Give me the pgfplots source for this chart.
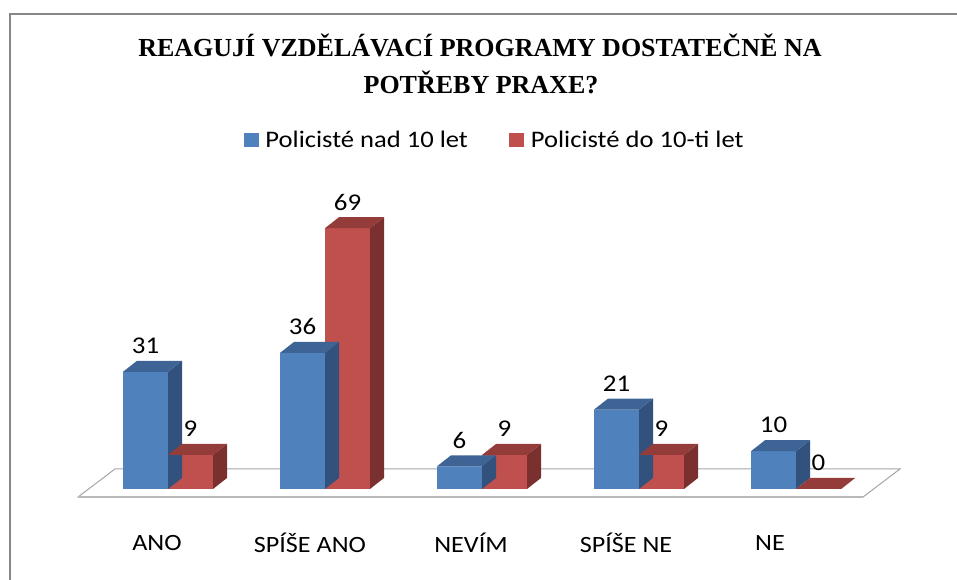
\documentclass[border=0pt]{standalone}
\usepackage{pgfplots}
\pgfplotsset{compat=1.18}
\usepackage{fontspec}
\setmainfont{Carlito}[FakeStretch=1.12]
\newfontfamily\titlefont{Liberation Serif}
\definecolor{bfront}{HTML}{4F81BD}
\definecolor{btop}{HTML}{3D6494}
\definecolor{bside}{HTML}{32527D}
\definecolor{rfront}{HTML}{C0504D}
\definecolor{rtop}{HTML}{943C3A}
\definecolor{rside}{HTML}{7A302F}
\definecolor{framegray}{HTML}{878787}
\newcommand\ticfont{\fontsize{17.5}{20}\selectfont}
\newcommand\legfont{\fontsize{17.8}{20}\selectfont}
\newcommand\numfont{\fontsize{18}{20}\selectfont}
\pgfdeclareplotmark{cubeB}{%
  \pgfmathsetmacro\hh{-\yv*2.835}%
  \pgfmathsetmacro\hb{8.25-\yv*2.835}%
  \pgfsetfillcolor{bside}%
  \pgfpathmoveto{\pgfpoint{0pt}{0pt}}%
  \pgfpathlineto{\pgfpoint{10.5pt}{8.25pt}}%
  \pgfpathlineto{\pgfpoint{10.5pt}{\hb pt}}%
  \pgfpathlineto{\pgfpoint{0pt}{\hh pt}}%
  \pgfpathclose\pgfusepath{fill}%
  \pgfsetfillcolor{btop}%
  \pgfpathmoveto{\pgfpoint{-33.75pt}{0pt}}%
  \pgfpathlineto{\pgfpoint{0pt}{0pt}}%
  \pgfpathlineto{\pgfpoint{10.5pt}{8.25pt}}%
  \pgfpathlineto{\pgfpoint{-23.25pt}{8.25pt}}%
  \pgfpathclose\pgfusepath{fill}%
}
\pgfdeclareplotmark{cubeR}{%
  \pgfmathsetmacro\hh{-\yv*2.835}%
  \pgfmathsetmacro\hb{8.25-\yv*2.835}%
  \pgfsetfillcolor{rside}%
  \pgfpathmoveto{\pgfpoint{33.75pt}{0pt}}%
  \pgfpathlineto{\pgfpoint{44.25pt}{8.25pt}}%
  \pgfpathlineto{\pgfpoint{44.25pt}{\hb pt}}%
  \pgfpathlineto{\pgfpoint{33.75pt}{\hh pt}}%
  \pgfpathclose\pgfusepath{fill}%
  \pgfsetfillcolor{rtop}%
  \pgfpathmoveto{\pgfpoint{0pt}{0pt}}%
  \pgfpathlineto{\pgfpoint{33.75pt}{0pt}}%
  \pgfpathlineto{\pgfpoint{44.25pt}{8.25pt}}%
  \pgfpathlineto{\pgfpoint{10.5pt}{8.25pt}}%
  \pgfpathclose\pgfusepath{fill}%
}
\begin{document}
\begin{tikzpicture}
\useasboundingbox (0pt,0pt) rectangle (717.75pt,435pt);
\fill[framegray] (6.4pt,423.4pt) rectangle (717.75pt,425.6pt);
\fill[framegray] (6.4pt,0pt) rectangle (8.6pt,425.6pt);
\node[anchor=base, font=\titlefont\bfseries\fontsize{19.5}{22}\selectfont] at (360pt,392.25pt) {REAGUJÍ VZDĚLÁVACÍ PROGRAMY DOSTATEČNĚ NA};
\node[anchor=base, font=\titlefont\bfseries\fontsize{19.5}{22}\selectfont] at (360.75pt,364.5pt) {POTŘEBY PRAXE?};
\begin{axis}[
  anchor=south west, at={(55.35pt,68.25pt)},
  x=117.75pt, y=2.835pt,
  xmin=-0.6, xmax=4.75, ymin=0, ymax=100,
  clip=false,
  axis line style={draw=none},
  tick style={draw=none},
  ytick=\empty,
  xtick={-0.07,0.904,1.93,2.917,3.834},
  xticklabels={ANO,SPÍŠE ANO,NEVÍM,SPÍŠE NE,NE},
  xticklabel style={anchor=center, yshift=-40.5pt, font=\ticfont},
  legend style={at={(0.5015,0.923)}, anchor=center, draw=none, fill=none,
    font=\legfont,
    /tikz/every odd column/.append style={column sep=3pt},
    /tikz/every even column/.append style={column sep=29pt}},
  legend columns=2,
  nodes near coords style={/pgf/number format/assume math mode=true},
  every node near coord/.append style={anchor=center, yshift=19.5pt, font=\numfont, text=black},
]
\addplot[fill=white, draw=gray!70, line width=0.75pt, forget plot]
  coordinates {(-0.573,-2.116) (-0.338,5.29) (4.662,5.29) (4.427,-2.116)} -- cycle;
\addplot[draw=gray!55, line width=1.6pt, forget plot]
  coordinates {(-0.573,-2.116) (4.427,-2.116)};
\addplot[ybar, bar width=33.75pt, bar shift=-16.875pt, fill=bfront, draw=none,
  nodes near coords,
  every node near coord/.append style={xshift=-16.875pt},
  legend image code/.code={\fill[bfront] (0pt,-5.2pt) rectangle (11.25pt,5.2pt);}]
  coordinates {(0,31) (1,36) (2,6) (3,21) (4,10)};
\addlegendentry{Policisté nad 10 let}
\addplot[only marks, mark=cubeB, visualization depends on={y \as \yv}, forget plot]
  coordinates {(0,31) (1,36) (2,6) (3,21) (4,10)};
\addplot[ybar, bar width=33.75pt, bar shift=16.875pt, fill=rfront, draw=none,
  nodes near coords,
  every node near coord/.append style={xshift=16.875pt},
  legend image code/.code={\fill[rfront] (0pt,-5.2pt) rectangle (11.25pt,5.2pt);}]
  coordinates {(0,9) (1,69) (2,9) (3,9) (4,0)};
\addlegendentry{Policisté do 10-ti let}
\addplot[only marks, mark=cubeR, visualization depends on={y \as \yv}, forget plot]
  coordinates {(0,9) (1,69) (2,9) (3,9) (4,0)};
\end{axis}
\end{tikzpicture}
\end{document}
